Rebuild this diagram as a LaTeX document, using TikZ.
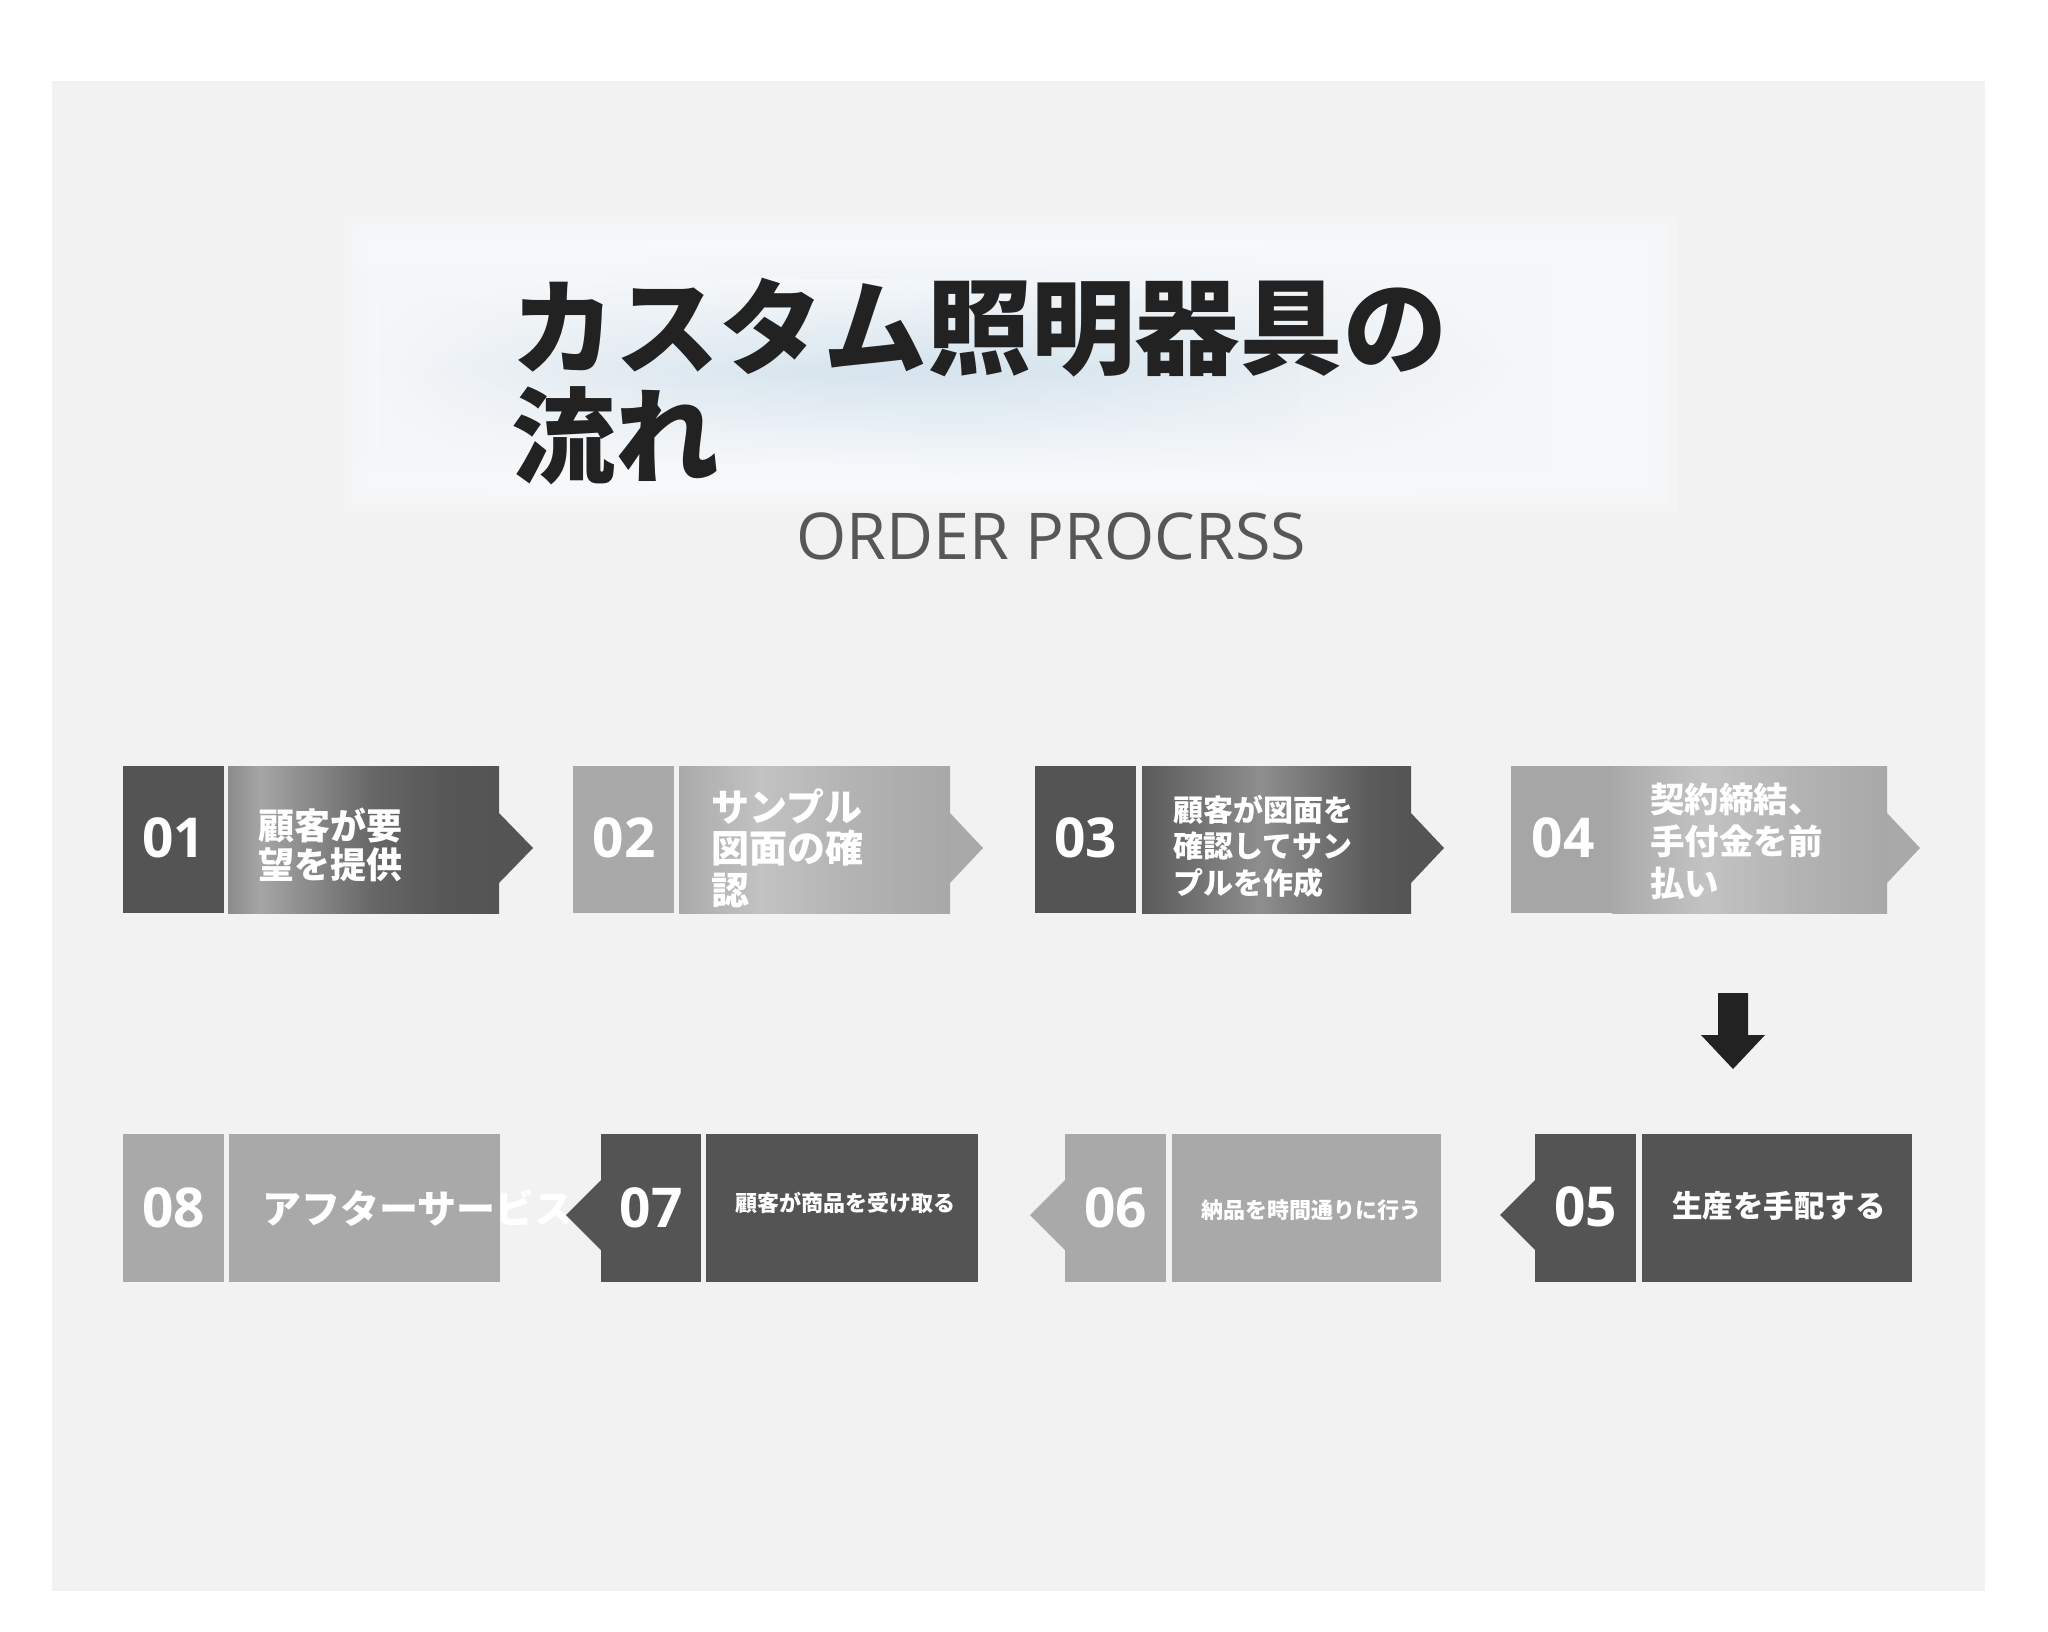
\documentclass[tikz,border=0pt]{standalone}
\usepackage{fontspec}
\newfontfamily\cjk{Noto Sans CJK JP}
\newfontfamily\latin{Open Sans}
\usetikzlibrary{fadings}
\definecolor{panel}{HTML}{F2F2F2}
\definecolor{dk}{HTML}{545454}
\definecolor{lt}{HTML}{A9A9A9}
\definecolor{ltn}{HTML}{A6A6A6}
\definecolor{glowbase}{HTML}{FAFBFC}
\definecolor{glowblue}{HTML}{D6E4EE}
\definecolor{titlec}{HTML}{222222}
\definecolor{subc}{HTML}{575757}
\definecolor{arrowc}{HTML}{222222}
% shading colours
\definecolor{sa0}{HTML}{8C8C8C}\definecolor{sa1}{HTML}{A5A5A5}\definecolor{sa2}{HTML}{8A8A8A}
\definecolor{sa3}{HTML}{666666}\definecolor{sa4}{HTML}{575757}\definecolor{sa5}{HTML}{545454}
\definecolor{sb0}{HTML}{AAAAAA}\definecolor{sb1}{HTML}{C2C2C2}\definecolor{sb2}{HTML}{B4B4B4}\definecolor{sb3}{HTML}{A8A8A8}
\definecolor{sc0}{HTML}{5A5A5A}\definecolor{sc1}{HTML}{8E8E8E}\definecolor{sc2}{HTML}{5C5C5C}\definecolor{sc3}{HTML}{545454}
\definecolor{sd0}{HTML}{A9A9A9}\definecolor{sd1}{HTML}{C3C3C3}\definecolor{sd2}{HTML}{B2B2B2}\definecolor{sd3}{HTML}{A8A8A8}
\pgfdeclarehorizontalshading{shone}{100bp}{color(0bp)=(sa0); color(25bp)=(sa0); color(31bp)=(sa1); color(40bp)=(sa2); color(52bp)=(sa3); color(65bp)=(sa4); color(75bp)=(sa5); color(100bp)=(sa5)}
\pgfdeclarehorizontalshading{shtwo}{100bp}{color(0bp)=(sb0); color(25bp)=(sb0); color(40bp)=(sb1); color(55bp)=(sb2); color(75bp)=(sb3); color(100bp)=(sb3)}
\pgfdeclarehorizontalshading{shthree}{100bp}{color(0bp)=(sc0); color(25bp)=(sc0); color(47bp)=(sc1); color(67bp)=(sc2); color(75bp)=(sc3); color(100bp)=(sc3)}
\pgfdeclarehorizontalshading{shfour}{100bp}{color(0bp)=(sd0); color(25bp)=(sd0); color(42bp)=(sd1); color(60bp)=(sd2); color(75bp)=(sd3); color(100bp)=(sd3)}
\tikzfading[name=softlr, left color=transparent!100, right color=transparent!100, middle color=transparent!0]
\tikzset{
  numlbl/.style={font=\latin\bfseries\fontsize{55}{55}\selectfont, text=white, inner sep=0pt},
  boxtxt/.style={anchor=west, inner sep=0pt, align=left, text=white},
  dkfill/.style={fill=dk},
  ltfill/.style={fill=lt},
  glowlayer/.style={fill=glowbase, fill opacity=0.3}
}
\begin{document}
\begin{tikzpicture}[x=1pt,y=-1pt]
\useasboundingbox (0,0) rectangle (2048,1631);
\fill[white] (0,0) rectangle (2048,1631);
\fill[panel] (52,81) rectangle (1985,1591);
% title glow (soft-edged)
\fill[glowlayer] (343,217) rectangle (1678,512);
\fill[glowlayer] (353,225) rectangle (1668,504);
\fill[glowlayer] (363,233) rectangle (1658,496);
\fill[glowlayer] (373,241) rectangle (1648,488);
\fill[glowlayer] (383,249) rectangle (1638,480);
\shade[top color=glowbase, bottom color=glowbase, middle color=glowblue, path fading=softlr] (345,240) rectangle (1560,490);
\shade[top color=glowbase, bottom color=glowbase, middle color=glowblue, path fading=softlr, opacity=0.6] (380,280) rectangle (1300,470);

\node[anchor=west, inner sep=0pt, align=left, font=\cjk\bfseries\fontsize{104}{109}\selectfont, text=titlec] (title) at (511,382) {カスタム照明器具の\\流れ};
\node[font=\latin\fontsize{64.5}{64.5}\selectfont, text=subc, inner sep=0pt] (sub) at (1051,536) {ORDER PROCRSS};

% ---- row 1
\fill[dkfill] (123,766) rectangle (224,913);
\shade[shading=shone] (228,766) rectangle (499,913);
\fill[dkfill] (499,813) -- (533,848) -- (499,883) -- cycle;

\fill[ltfill] (573,766) rectangle (674,913);
\shade[shading=shtwo] (679,766) rectangle (950,913);
\fill[ltfill] (950,813) -- (983,848) -- (950,883) -- cycle;

\fill[dkfill] (1035,766) rectangle (1136,913);
\shade[shading=shthree] (1142,766) rectangle (1411,913);
\fill[dkfill] (1411,813) -- (1444,848) -- (1411,883) -- cycle;

\fill[fill=ltn] (1511,766) rectangle (1613,913);
\shade[shading=shfour] (1612,766) rectangle (1887,913);
\fill[ltfill] (1887,813) -- (1920,848) -- (1887,883) -- cycle;

\node[numlbl] (n1) at (173.5,838) {01};
\node[numlbl] (n2) at (624,838) {02};
\node[numlbl] (n3) at (1085.5,838) {03};
\node[numlbl] (n4) at (1563,838) {04};

\node[boxtxt, font=\cjk\bfseries\fontsize{36}{39}\selectfont] (t1) at (258,845) {顧客が要\\望を提供};
\node[boxtxt, font=\cjk\bfseries\fontsize{38}{41.5}\selectfont] (t2) at (711,848) {サンプル\\図面の確\\認};
\node[boxtxt, font=\cjk\bfseries\fontsize{30}{36.5}\selectfont] (t3) at (1173,846) {顧客が図面を\\確認してサン\\プルを作成};
\node[boxtxt, font=\cjk\bfseries\fontsize{34.5}{42}\selectfont] (t4) at (1650,841) {契約締結、\\手付金を前\\払い};

% down arrow
\fill[arrowc] (1718,993) -- (1748,993) -- (1748,1035) -- (1765,1035) -- (1733,1069) -- (1701,1035) -- (1718,1035) -- cycle;

% ---- row 2
\fill[ltfill] (123,1134) rectangle (224,1282);
\fill[ltfill] (229,1134) rectangle (500,1282);
\node[boxtxt, font=\cjk\bfseries\fontsize{39}{39}\selectfont] (t8) at (262,1208) {アフターサービス};

\fill[dkfill] (601,1180) -- (566,1215) -- (601,1250) -- cycle;
\fill[dkfill] (601,1134) rectangle (701,1282);
\fill[dkfill] (706,1134) rectangle (978,1282);

\fill[ltfill] (1065,1180) -- (1030,1215) -- (1065,1250) -- cycle;
\fill[ltfill] (1065,1134) rectangle (1166,1282);
\fill[ltfill] (1172,1134) rectangle (1441,1282);

\fill[dkfill] (1535,1180) -- (1500,1215) -- (1535,1250) -- cycle;
\fill[dkfill] (1535,1134) rectangle (1636,1282);
\fill[dkfill] (1642,1134) rectangle (1912,1282);

\node[numlbl] (n8) at (173.5,1208) {08};
\node[numlbl] (n7) at (651,1208) {07};
\node[numlbl] (n6) at (1115.5,1208) {06};
\node[numlbl] (n5) at (1585.5,1207) {05};

\node[boxtxt, font=\cjk\bfseries\fontsize{22}{22}\selectfont] (t7) at (735,1203) {顧客が商品を受け取る};
\node[boxtxt, font=\cjk\bfseries\fontsize{22}{22}\selectfont] (t6) at (1201,1210) {納品を時間通りに行う};
\node[boxtxt, font=\cjk\bfseries\fontsize{30.5}{30.5}\selectfont] (t5) at (1672,1206) {生産を手配する};
\end{tikzpicture}
\end{document}
